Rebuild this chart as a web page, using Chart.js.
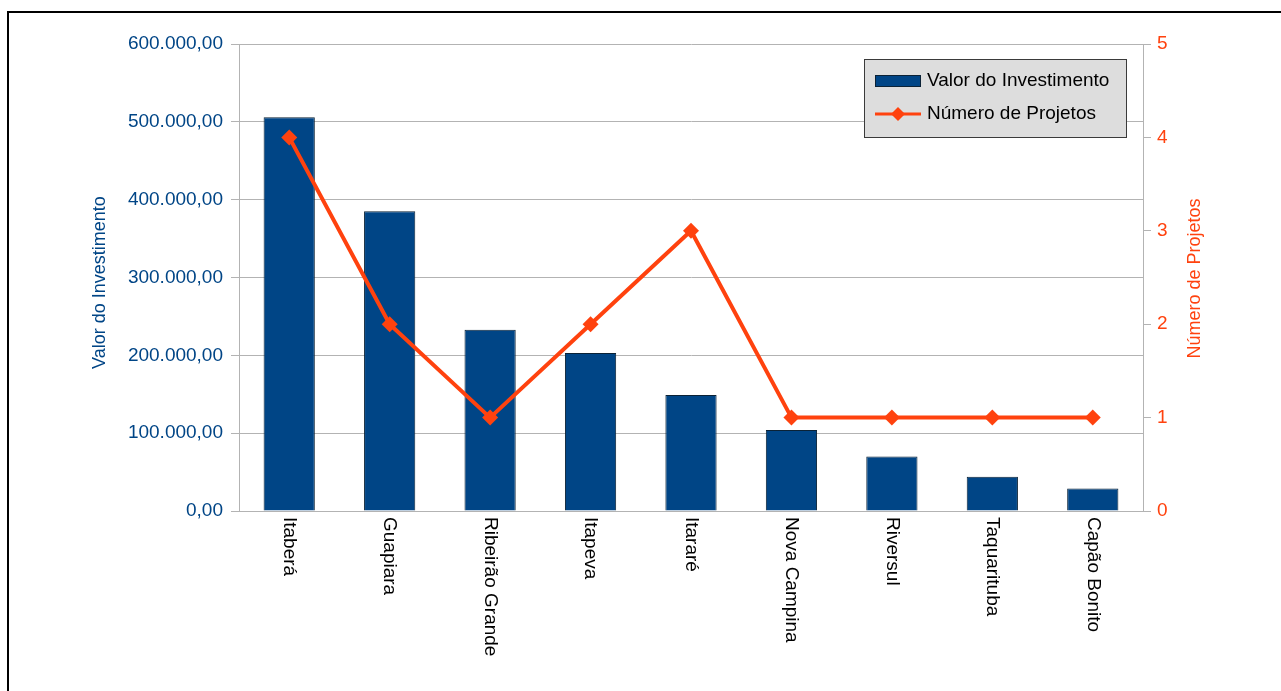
<!DOCTYPE html>
<html>
<head>
<meta charset="utf-8">
<style>
  html, body { margin: 0; padding: 0; background: #fff; }
  canvas { display: block; }
</style>
<script src="https://cdn.jsdelivr.net/npm/chart.js@4/dist/chart.umd.min.js"></script>
</head>
<body>
<canvas id="myChart" width="1281" height="691"></canvas>
<script>
const categories = [
  'Itaberá', 'Guapiara', 'Ribeirão Grande', 'Itapeva', 'Itararé',
  'Nova Campina', 'Riversul', 'Taquarituba', 'Capão Bonito',
];
const investimento = [
  506000, 385000, 233000, 203000, 149000, 104000, 70000, 44000, 29000,
];
const projetos = [4, 2, 1, 2, 3, 1, 1, 1, 1];

const BLUE = '#004586';
const ORANGE = '#ff420e';
const FONT = '"Liberation Sans", Arial, sans-serif';

// 600000 -> "600.000,00"
const formatBR = (v) => {
  const [int, dec] = Number(v).toFixed(2).split('.');
  return int.replace(/\B(?=(\d{3})+(?!\d))/g, '.') + ',' + dec;
};

const framePlugin = {
  id: 'frame',
  beforeDraw: (chart) => {
    const ctx = chart.ctx;
    ctx.save();
    ctx.fillStyle = '#fff';
    ctx.fillRect(0, 0, chart.width, chart.height);
    ctx.fillStyle = '#000';
    ctx.fillRect(7, 11, chart.width, 2);
    ctx.fillRect(7, 11, 2, chart.height);
    ctx.restore();
  },
};

const labelsPlugin = {
  id: 'labels',
  afterDraw: (chart) => {
    const ctx = chart.ctx;
    const area = chart.chartArea;
    const xScale = chart.scales.x;
    ctx.save();

    // category labels, rotated clockwise
    ctx.font = '19px ' + FONT;
    ctx.fillStyle = '#000';
    ctx.textAlign = 'left';
    ctx.textBaseline = 'middle';
    chart.data.labels.forEach((label, i) => {
      ctx.save();
      ctx.translate(xScale.getPixelForTick(i), xScale.top + 6);
      ctx.rotate(Math.PI / 2);
      ctx.fillText(label, 0, 0);
      ctx.restore();
    });

    // axis titles, both reading upwards
    const midY = (area.top + area.bottom) / 2;
    ctx.font = '18px ' + FONT;
    ctx.textAlign = 'center';
    ctx.textBaseline = 'middle';
    [[100, midY + 5, BLUE, 'Valor do Investimento'],
      [1195, midY + 1, ORANGE, 'Número de Projetos']].forEach(([x, y, c, t]) => {
      ctx.save();
      ctx.translate(x, y);
      ctx.rotate(-Math.PI / 2);
      ctx.fillStyle = c;
      ctx.fillText(t, 0, 0);
      ctx.restore();
    });

    // legend box
    const bx = area.right - 279;
    const by = area.top + 15;
    ctx.fillStyle = '#dddddd';
    ctx.fillRect(bx, by, 263, 79);
    ctx.strokeStyle = '#3a3a3a';
    ctx.lineWidth = 1;
    ctx.strokeRect(bx + 0.5, by + 0.5, 262, 78);

    const bars = chart.data.datasets.find((d) => d.type === 'bar');
    const line = chart.data.datasets.find((d) => d.type === 'line');
    ctx.fillStyle = bars.backgroundColor;
    ctx.fillRect(bx + 11, by + 16, 46, 12);
    ctx.strokeStyle = bars.borderColor;
    ctx.strokeRect(bx + 11.5, by + 16.5, 45, 11);

    const ly = by + 55;
    ctx.strokeStyle = line.borderColor;
    ctx.lineWidth = 3;
    ctx.beginPath();
    ctx.moveTo(bx + 11, ly);
    ctx.lineTo(bx + 57, ly);
    ctx.stroke();
    ctx.fillStyle = line.borderColor;
    ctx.beginPath();
    ctx.moveTo(bx + 34, ly - 7);
    ctx.lineTo(bx + 41, ly);
    ctx.lineTo(bx + 34, ly + 7);
    ctx.lineTo(bx + 27, ly);
    ctx.closePath();
    ctx.fill();

    ctx.font = '19px ' + FONT;
    ctx.fillStyle = '#000';
    ctx.textAlign = 'left';
    ctx.fillText(bars.label, bx + 63, by + 22);
    ctx.fillText(line.label, bx + 63, ly);
    ctx.restore();
  },
};

const ctx = document.getElementById('myChart').getContext('2d');
new Chart(ctx, {
  data: {
    labels: categories,
    datasets: [
      {
        type: 'line',
        label: 'Número de Projetos',
        data: projetos,
        yAxisID: 'y1',
        borderColor: ORANGE,
        backgroundColor: ORANGE,
        borderWidth: 4,
        pointStyle: 'rectRot',
        pointRadius: 8,
        pointHoverRadius: 8,
        pointBorderWidth: 0,
        tension: 0,
        order: 0,
      },
      {
        type: 'bar',
        label: 'Valor do Investimento',
        data: investimento,
        yAxisID: 'y',
        backgroundColor: BLUE,
        borderColor: '#0b2236',
        borderWidth: 1,
        barPercentage: 0.51,
        categoryPercentage: 1,
        order: 1,
      },
    ],
  },
  options: {
    responsive: false,
    animation: false,
    layout: {
      padding: {top: 44, left: 0, right: 0, bottom: 0},
    },
    plugins: {
      legend: {display: false},
      tooltip: {enabled: false},
    },
    scales: {
      x: {
        grid: {display: false},
        border: {display: true, color: '#b3b3b3'},
        ticks: {display: false},
        afterFit: (s) => {
          s.height = 180;
        },
      },
      y: {
        position: 'left',
        min: 0,
        max: 600000,
        grid: {color: '#b3b3b3', tickLength: 8},
        border: {color: '#b3b3b3'},
        ticks: {
          stepSize: 100000,
          padding: 8,
          color: BLUE,
          font: {family: FONT, size: 19},
          callback: (v) => formatBR(v),
        },
        afterFit: (s) => {
          s.width = 239;
        },
      },
      y1: {
        position: 'right',
        min: 0,
        max: 5,
        grid: {drawOnChartArea: false, color: '#b3b3b3', tickLength: 8},
        border: {color: '#b3b3b3'},
        ticks: {
          stepSize: 1,
          padding: 6,
          color: ORANGE,
          font: {family: FONT, size: 19},
        },
        afterFit: (s) => {
          s.width = 138;
        },
      },
    },
  },
  plugins: [framePlugin, labelsPlugin],
});
</script>
</body>
</html>
